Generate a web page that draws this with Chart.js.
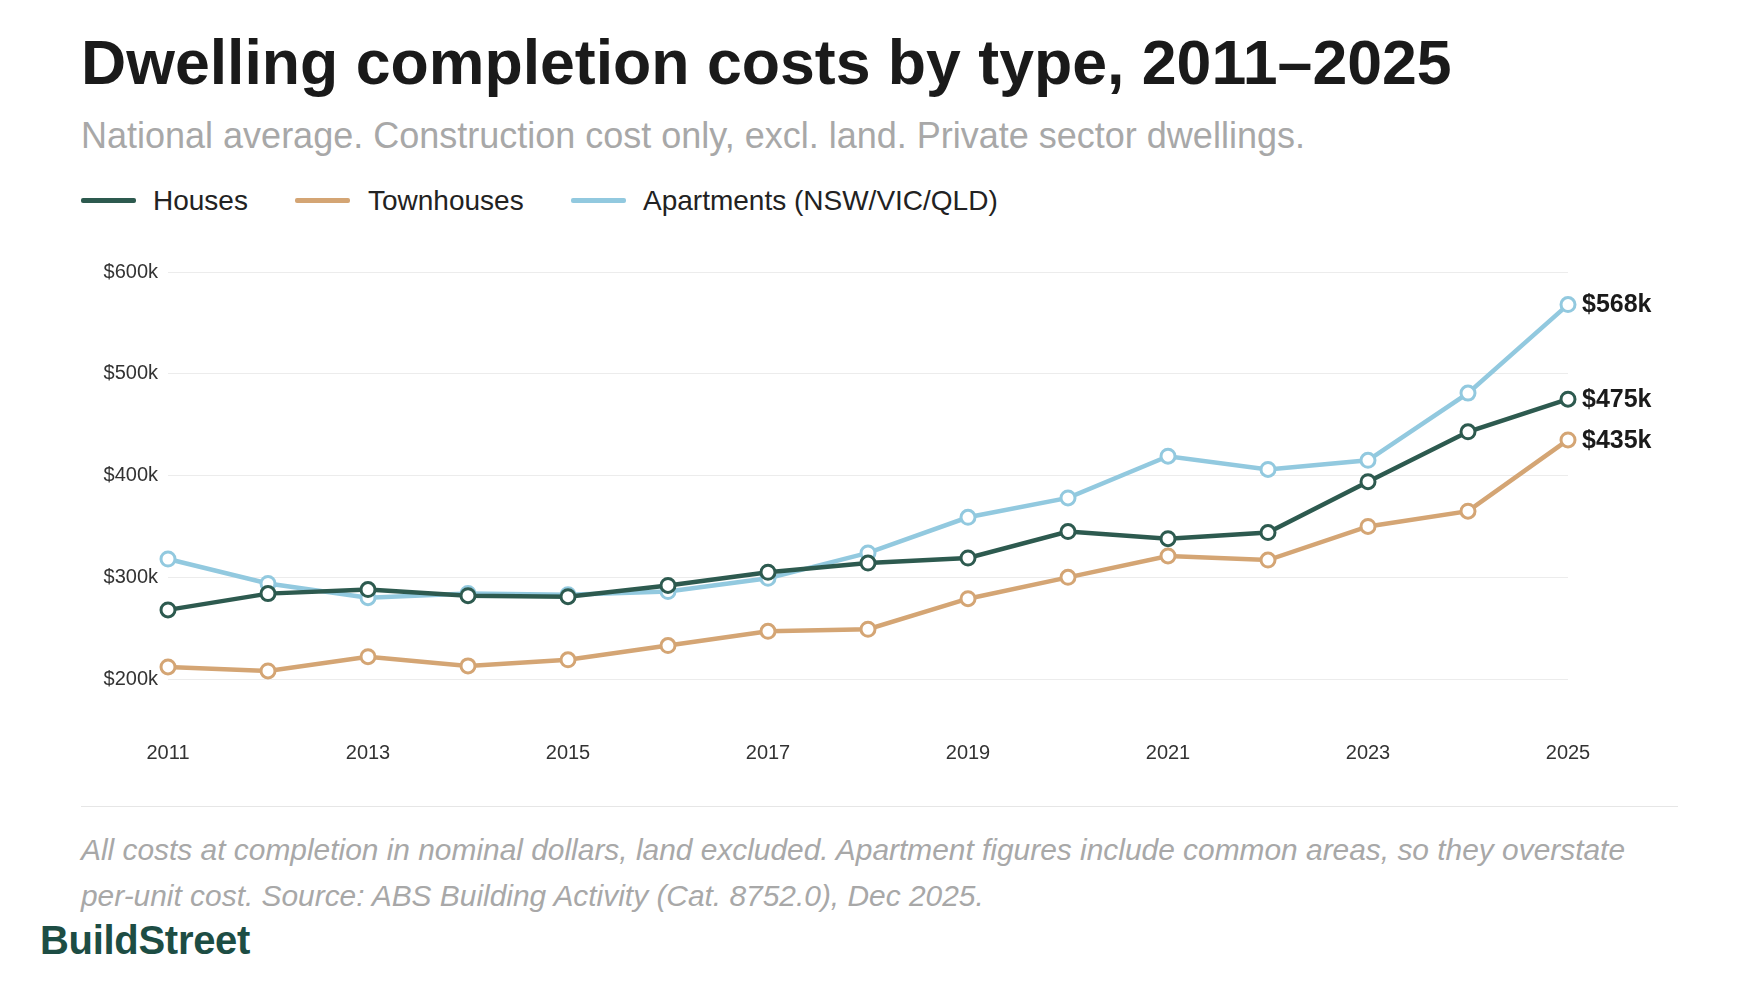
<!DOCTYPE html>
<html><head><meta charset="utf-8">
<script src="https://cdn.jsdelivr.net/npm/chart.js@4"></script>
<style>
body{margin:0;width:1760px;height:1000px;background:#fff;font-family:"Liberation Sans",Arial,sans-serif;position:relative;overflow:hidden}
.a{position:absolute;white-space:nowrap}
#title{left:81px;top:26px;font-size:62.6px;font-weight:bold;color:#1a1a1a}
#sub{left:81px;top:115px;font-size:36px;color:#a8a8a8}
.lg{top:185px;font-size:28px;color:#222}
.sw{position:absolute;top:198px;height:5px;width:55px;border-radius:2px}
#sep{left:81px;top:806px;width:1597px;height:1px;background:#e6e6e6}
.ft{left:81px;font-size:29.9px;font-style:italic;color:#a8a8a8}
#logo{left:40px;top:918px;font-size:40px;font-weight:bold;color:#1d4d44;letter-spacing:-0.3px}
#cv{position:absolute;left:81px;top:250px}
</style></head><body>
<div class="a" id="title">Dwelling completion costs by type, 2011–2025</div>
<div class="a" id="sub">National average. Construction cost only, excl. land. Private sector dwellings.</div>
<div class="sw" style="left:81px;background:#2d5a4f"></div><div class="a lg" style="left:153px">Houses</div>
<div class="sw" style="left:295px;background:#d4a574"></div><div class="a lg" style="left:368px">Townhouses</div>
<div class="sw" style="left:571px;background:#92c9df"></div><div class="a lg" style="left:643px">Apartments (NSW/VIC/QLD)</div>
<div class="a" id="sep"></div>
<div class="a ft" style="top:833px">All costs at completion in nominal dollars, land excluded. Apartment figures include common areas, so they overstate</div>
<div class="a ft" style="top:879px">per-unit cost. Source: ABS Building Activity (Cat. 8752.0), Dec 2025.</div>
<div class="a" id="logo">BuildStreet</div>
<canvas id="cv" width="1619" height="530"></canvas>
<script>
const years=["2011","2012","2013","2014","2015","2016","2017","2018","2019","2020","2021","2022","2023","2024","2025"];
const houses=[268,284,288,282,281,292,305,314,319,345,338,344,394,443,475];
const townhouses=[212,208,222,213,219,233,247,249,279,300,321,317,350,365,435];
const apartments=[318,294,280,284,283,286,299,324,359,378,419,406,415,481,568];
const yTicks=[200,300,400,500,600];
const endLabels=["$475k","$435k","$568k"];
const cols=["#2d5a4f","#d4a574","#92c9df"];
const names=["Houses","Townhouses","Apartments (NSW/VIC/QLD)"];
const series=[houses,townhouses,apartments];
const ds=series.map((d,i)=>({label:names[i],data:d,borderColor:cols[i],backgroundColor:"#fff",pointBackgroundColor:"#fff",pointBorderColor:cols[i],pointBorderWidth:3,pointRadius:7,borderWidth:4.5,tension:0,order:i==2?3:(i==0?1:2)}));
const endPlugin={id:"end",afterDatasetsDraw(c){const ctx=c.ctx;ctx.save();ctx.font="bold 25px 'Liberation Sans',Arial";ctx.fillStyle="#1a1a1a";ctx.textBaseline="middle";
c.data.datasets.forEach((d,i)=>{const m=c.getDatasetMeta(i);const p=m.data[m.data.length-1];ctx.fillText(endLabels[i],p.x+14,p.y+1);});ctx.restore();}};
new Chart(document.getElementById("cv"),{type:"line",data:{labels:years,datasets:ds},plugins:[endPlugin],
options:{responsive:false,animation:false,layout:{padding:{top:20,right:132,left:0,bottom:0}},
plugins:{legend:{display:false},tooltip:{enabled:false}},
scales:{x:{offset:false,grid:{display:false},border:{display:false},
ticks:{autoSkip:false,maxRotation:0,padding:3,color:"#333",font:{size:20,family:"'Liberation Sans',Arial"},callback:(v,i)=>i%2==0?years[i]:""},
afterFit(a){a.height=50;}},
y:{min:150,max:600,afterBuildTicks(a){a.ticks=yTicks.map(v=>({value:v}));},grid:{color:"#ececec",drawTicks:false},border:{display:false},
ticks:{padding:10,color:"#333",font:{size:20,family:"'Liberation Sans',Arial"},callback:v=>"$"+v+"k"},afterFit(a){a.width=87;}}}}});
</script></body></html>
